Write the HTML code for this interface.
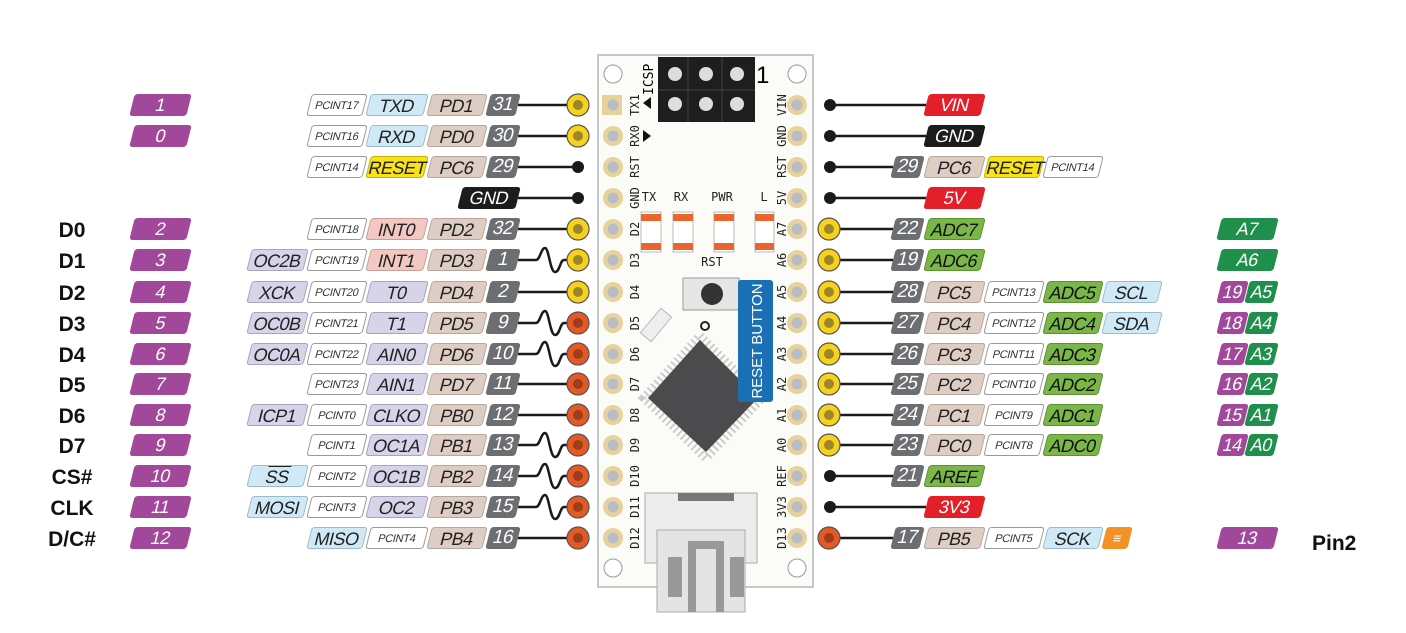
<!DOCTYPE html>
<html><head><meta charset="utf-8">
<style>
body{margin:0;width:1406px;height:633px;background:#fff;position:relative;overflow:hidden;font-family:"Liberation Sans",sans-serif}
svg{position:absolute;left:0;top:0}
.b{position:absolute;height:22px;line-height:22px;transform:skewX(-14deg);border-radius:3px;text-align:center;font-size:18px;color:#222;box-sizing:border-box;white-space:nowrap;letter-spacing:-0.5px}
.pc{background:#fff;border:1px solid #999;font-size:11px;color:#333;letter-spacing:-0.3px}
.lb{background:#cfe9f6;border:1px solid #9bbccb}
.pt{background:#ddcdc3;border:1px solid #b7a79c}
.pk{background:#f4c8c2;border:1px solid #c9a09a}
.lv{background:#d7d3e8;border:1px solid #a9a4c2}
.yl{background:#f8e21a;border:1px solid #c4b200}
.n{background:#6d6e71;color:#fff;font-size:19px}
.bk{background:#1c1c1c;color:#fff}
.rd{background:#e3202a;color:#fff}
.gr{background:#7ab648;border:1px solid #5e9134;color:#111}
.dg{background:#1f8f4c;color:#fff}
.pu{background:#a2489a;color:#fff}
.or{background:#f39224}
.dl{position:absolute;font-weight:bold;font-size:21px;color:#111;text-align:center;width:90px;left:27px}
</style></head><body>
<svg width="1406" height="633" xmlns="http://www.w3.org/2000/svg">
<rect x="598" y="55" width="215" height="532" fill="#fbfbf8" stroke="#c8c8c8" stroke-width="2"/>
<circle cx="613" cy="74" r="9" fill="#fff" stroke="#999"/>
<circle cx="797" cy="74" r="9" fill="#fff" stroke="#999"/>
<circle cx="613" cy="568" r="9" fill="#fff" stroke="#999"/>
<circle cx="797" cy="568" r="9" fill="#fff" stroke="#999"/>
<rect x="658" y="57" width="97" height="65" fill="#1e1e1e"/>
<g fill="#ddd"><circle cx="675" cy="74" r="7"/><circle cx="706" cy="74" r="7"/><circle cx="737" cy="74" r="7"/><circle cx="675" cy="104" r="7"/><circle cx="706" cy="104" r="7"/><circle cx="737" cy="104" r="7"/></g>
<path d="M688,57V122M722,57V122M658,90H755" stroke="#444"/>
<text x="756" y="83" font-size="24" font-family="Liberation Sans">1</text>
<text transform="translate(653,95) rotate(-90)" font-size="13" font-family="DejaVu Sans Mono">ICSP</text>
<path d="M643,103 l8,-6 v12z M643,130 l8,6 l-8,6z" fill="#111"/>
<g fill="#e6d29a">
<rect x="602" y="95" width="20" height="20"/>
<circle cx="613" cy="136" r="10"/><circle cx="613" cy="167" r="10"/><circle cx="613" cy="198" r="10"/><circle cx="613" cy="229" r="10"/><circle cx="613" cy="260" r="10"/><circle cx="613" cy="292" r="10"/><circle cx="613" cy="323" r="10"/><circle cx="613" cy="354" r="10"/><circle cx="613" cy="384" r="10"/><circle cx="613" cy="415" r="10"/><circle cx="613" cy="445" r="10"/><circle cx="613" cy="476" r="10"/><circle cx="613" cy="507" r="10"/><circle cx="613" cy="538" r="10"/>
<circle cx="797" cy="105" r="10"/><circle cx="797" cy="136" r="10"/><circle cx="797" cy="167" r="10"/><circle cx="797" cy="198" r="10"/><circle cx="797" cy="229" r="10"/><circle cx="797" cy="260" r="10"/><circle cx="797" cy="292" r="10"/><circle cx="797" cy="323" r="10"/><circle cx="797" cy="354" r="10"/><circle cx="797" cy="384" r="10"/><circle cx="797" cy="415" r="10"/><circle cx="797" cy="445" r="10"/><circle cx="797" cy="476" r="10"/><circle cx="797" cy="507" r="10"/><circle cx="797" cy="538" r="10"/>
</g>
<g fill="#b8bcc6">
<circle cx="613" cy="105" r="5.5"/><circle cx="613" cy="136" r="5.5"/><circle cx="613" cy="167" r="5.5"/><circle cx="613" cy="198" r="5.5"/><circle cx="613" cy="229" r="5.5"/><circle cx="613" cy="260" r="5.5"/><circle cx="613" cy="292" r="5.5"/><circle cx="613" cy="323" r="5.5"/><circle cx="613" cy="354" r="5.5"/><circle cx="613" cy="384" r="5.5"/><circle cx="613" cy="415" r="5.5"/><circle cx="613" cy="445" r="5.5"/><circle cx="613" cy="476" r="5.5"/><circle cx="613" cy="507" r="5.5"/><circle cx="613" cy="538" r="5.5"/>
<circle cx="797" cy="105" r="5.5"/><circle cx="797" cy="136" r="5.5"/><circle cx="797" cy="167" r="5.5"/><circle cx="797" cy="198" r="5.5"/><circle cx="797" cy="229" r="5.5"/><circle cx="797" cy="260" r="5.5"/><circle cx="797" cy="292" r="5.5"/><circle cx="797" cy="323" r="5.5"/><circle cx="797" cy="354" r="5.5"/><circle cx="797" cy="384" r="5.5"/><circle cx="797" cy="415" r="5.5"/><circle cx="797" cy="445" r="5.5"/><circle cx="797" cy="476" r="5.5"/><circle cx="797" cy="507" r="5.5"/><circle cx="797" cy="538" r="5.5"/>
</g>
<!-- LEDs -->
<g><rect x="641" y="212" width="20" height="40" fill="#fff" stroke="#bbb"/><rect x="673" y="212" width="20" height="40" fill="#fff" stroke="#bbb"/><rect x="714" y="212" width="20" height="40" fill="#fff" stroke="#bbb"/><rect x="755" y="212" width="19" height="40" fill="#fff" stroke="#bbb"/></g>
<g fill="#e8662c"><rect x="641" y="214" width="20" height="7"/><rect x="641" y="243" width="20" height="7"/><rect x="673" y="214" width="20" height="7"/><rect x="673" y="243" width="20" height="7"/><rect x="714" y="214" width="20" height="7"/><rect x="714" y="243" width="20" height="7"/><rect x="755" y="214" width="19" height="7"/><rect x="755" y="243" width="19" height="7"/></g>
<g font-family="DejaVu Sans Mono" font-size="12" fill="#222" text-anchor="middle">
<text transform="translate(639,105) rotate(-90)">TX1</text><text transform="translate(639,136) rotate(-90)">RX0</text><text transform="translate(639,167) rotate(-90)">RST</text><text transform="translate(639,198) rotate(-90)">GND</text><text transform="translate(639,229) rotate(-90)">D2</text><text transform="translate(639,260) rotate(-90)">D3</text><text transform="translate(639,292) rotate(-90)">D4</text><text transform="translate(639,323) rotate(-90)">D5</text><text transform="translate(639,354) rotate(-90)">D6</text><text transform="translate(639,384) rotate(-90)">D7</text><text transform="translate(639,415) rotate(-90)">D8</text><text transform="translate(639,445) rotate(-90)">D9</text><text transform="translate(639,476) rotate(-90)">D10</text><text transform="translate(639,507) rotate(-90)">D11</text><text transform="translate(639,538) rotate(-90)">D12</text>
<text transform="translate(786,105) rotate(-90)">VIN</text><text transform="translate(786,136) rotate(-90)">GND</text><text transform="translate(786,167) rotate(-90)">RST</text><text transform="translate(786,198) rotate(-90)">5V</text><text transform="translate(786,229) rotate(-90)">A7</text><text transform="translate(786,260) rotate(-90)">A6</text><text transform="translate(786,292) rotate(-90)">A5</text><text transform="translate(786,323) rotate(-90)">A4</text><text transform="translate(786,354) rotate(-90)">A3</text><text transform="translate(786,384) rotate(-90)">A2</text><text transform="translate(786,415) rotate(-90)">A1</text><text transform="translate(786,445) rotate(-90)">A0</text><text transform="translate(786,476) rotate(-90)">REF</text><text transform="translate(786,507) rotate(-90)">3V3</text><text transform="translate(786,538) rotate(-90)">D13</text>
<text x="649" y="201">TX</text><text x="681" y="201">RX</text><text x="722" y="201">PWR</text><text x="764" y="201">L</text><text x="712" y="266">RST</text>
</g>
<rect x="683" y="278" width="56" height="32" fill="#e6e6e6" stroke="#999"/>
<circle cx="712" cy="294" r="11" fill="#333"/>
<circle cx="705" cy="326" r="4" fill="none" stroke="#222" stroke-width="2"/>
<rect x="640" y="318" width="32" height="14" fill="#eee" stroke="#bbb" transform="rotate(-50 656 325)"/>
<polygon points="700,336 762,398 706,458 644,398" fill="none" stroke="#ccc" stroke-width="9" stroke-dasharray="2 3"/>
<polygon points="700,340 758,398 706,452 648,398" fill="#4b4b4d"/>
<rect x="738" y="280" width="35" height="122" rx="3" fill="#1a6fb5"/>
<text transform="translate(762,341) rotate(-90)" font-size="15" fill="#fff" text-anchor="middle" font-family="Liberation Sans">RESET BUTTON</text>
<rect x="645" y="493" width="112" height="70" fill="#ececec" stroke="#aaa"/>
<rect x="657" y="530" width="88" height="82" fill="#e4e4e4" stroke="#aaa"/>
<rect x="678" y="493" width="56" height="8" fill="#777"/>
<path d="M692,612 V545 H720 V612" fill="none" stroke="#999" stroke-width="8"/>
<rect x="668" y="557" width="14" height="40" fill="#999"/><rect x="730" y="557" width="14" height="40" fill="#999"/>
<g stroke="#1a1a1a" stroke-width="2.5" fill="none">
<path d="M518,105H578M518,136H578M518,167H578M518,198H578M518,229H578M518,292H578M518,384H578M518,415H578M518,538H578"/>
<path d="M518,260H536c4,0 5,-12 9,-12s5,24 10,24s5,-12 9,-12H578"/>
<path d="M518,323H536c4,0 5,-12 9,-12s5,24 10,24s5,-12 9,-12H578"/>
<path d="M518,354H536c4,0 5,-12 9,-12s5,24 10,24s5,-12 9,-12H578"/>
<path d="M518,445H536c4,0 5,-12 9,-12s5,24 10,24s5,-12 9,-12H578"/>
<path d="M518,476H536c4,0 5,-12 9,-12s5,24 10,24s5,-12 9,-12H578"/>
<path d="M518,507H536c4,0 5,-12 9,-12s5,24 10,24s5,-12 9,-12H578"/>
<path d="M830,105H926M830,136H926M830,167H893M830,198H926M830,229H893M830,260H893M830,292H893M830,323H893M830,354H893M830,384H893M830,415H893M830,445H893M830,476H893M830,507H926M830,538H893"/>
</g>
<g fill="#1a1a1a"><circle cx="578" cy="167" r="6"/><circle cx="578" cy="198" r="6"/><circle cx="830" cy="105" r="6"/><circle cx="830" cy="136" r="6"/><circle cx="830" cy="167" r="6"/><circle cx="830" cy="198" r="6"/><circle cx="830" cy="476" r="6"/><circle cx="830" cy="507" r="6"/></g>
<g fill="#f6d21c" stroke="#555" stroke-width="1.2">
<circle cx="578" cy="105" r="11"/><circle cx="578" cy="136" r="11"/><circle cx="578" cy="229" r="11"/><circle cx="578" cy="260" r="11"/><circle cx="578" cy="292" r="11"/>
<circle cx="829" cy="229" r="11"/><circle cx="829" cy="260" r="11"/><circle cx="829" cy="292" r="11"/><circle cx="829" cy="323" r="11"/><circle cx="829" cy="354" r="11"/><circle cx="829" cy="384" r="11"/><circle cx="829" cy="415" r="11"/><circle cx="829" cy="445" r="11"/>
</g>
<g fill="#9a862c"><circle cx="578" cy="105" r="5"/><circle cx="578" cy="136" r="5"/><circle cx="578" cy="229" r="5"/><circle cx="578" cy="260" r="5"/><circle cx="578" cy="292" r="5"/>
<circle cx="829" cy="229" r="5"/><circle cx="829" cy="260" r="5"/><circle cx="829" cy="292" r="5"/><circle cx="829" cy="323" r="5"/><circle cx="829" cy="354" r="5"/><circle cx="829" cy="384" r="5"/><circle cx="829" cy="415" r="5"/><circle cx="829" cy="445" r="5"/></g>
<g fill="#e35a24" stroke="#555" stroke-width="1.2"><circle cx="578" cy="323" r="11"/><circle cx="578" cy="354" r="11"/><circle cx="578" cy="384" r="11"/><circle cx="578" cy="415" r="11"/><circle cx="578" cy="445" r="11"/><circle cx="578" cy="476" r="11"/><circle cx="578" cy="507" r="11"/><circle cx="578" cy="538" r="11"/><circle cx="829" cy="538" r="11"/></g>
<g fill="#9c3e1a"><circle cx="578" cy="323" r="5"/><circle cx="578" cy="354" r="5"/><circle cx="578" cy="384" r="5"/><circle cx="578" cy="415" r="5"/><circle cx="578" cy="445" r="5"/><circle cx="578" cy="476" r="5"/><circle cx="578" cy="507" r="5"/><circle cx="578" cy="538" r="5"/><circle cx="829" cy="538" r="5"/></g>
</svg>

<div class="dl" style="top:219px">D0</div><div class="dl" style="top:250px">D1</div><div class="dl" style="top:282px">D2</div><div class="dl" style="top:313px">D3</div><div class="dl" style="top:344px">D4</div><div class="dl" style="top:374px">D5</div><div class="dl" style="top:405px">D6</div><div class="dl" style="top:435px">D7</div><div class="dl" style="top:466px">CS#</div><div class="dl" style="top:497px">CLK</div><div class="dl" style="top:528px">D/C#</div>

<div class="b pu" style="left:132px;width:57px;top:94px">1</div>
<div class="b pu" style="left:132px;width:57px;top:125px">0</div>
<div class="b pu" style="left:132px;width:57px;top:218px">2</div>
<div class="b pu" style="left:132px;width:57px;top:249px">3</div>
<div class="b pu" style="left:132px;width:57px;top:281px">4</div>
<div class="b pu" style="left:132px;width:57px;top:312px">5</div>
<div class="b pu" style="left:132px;width:57px;top:343px">6</div>
<div class="b pu" style="left:132px;width:57px;top:373px">7</div>
<div class="b pu" style="left:132px;width:57px;top:404px">8</div>
<div class="b pu" style="left:132px;width:57px;top:434px">9</div>
<div class="b pu" style="left:132px;width:57px;top:465px">10</div>
<div class="b pu" style="left:132px;width:57px;top:496px">11</div>
<div class="b pu" style="left:132px;width:57px;top:527px">12</div>

<div class="b pc" style="left:309px;width:56px;top:94px">PCINT17</div><div class="b lb" style="left:368px;width:58px;top:94px">TXD</div><div class="b pt" style="left:429px;width:56px;top:94px">PD1</div><div class="b n" style="left:488px;width:30px;top:94px">31</div>
<div class="b pc" style="left:309px;width:56px;top:125px">PCINT16</div><div class="b lb" style="left:368px;width:58px;top:125px">RXD</div><div class="b pt" style="left:429px;width:56px;top:125px">PD0</div><div class="b n" style="left:488px;width:30px;top:125px">30</div>
<div class="b pc" style="left:309px;width:56px;top:156px">PCINT14</div><div class="b yl" style="left:368px;width:58px;top:156px">RESET</div><div class="b pt" style="left:429px;width:56px;top:156px">PC6</div><div class="b n" style="left:488px;width:30px;top:156px">29</div>
<div class="b bk" style="left:460px;width:58px;top:187px">GND</div>
<div class="b pc" style="left:309px;width:56px;top:218px">PCINT18</div><div class="b pk" style="left:368px;width:58px;top:218px">INT0</div><div class="b pt" style="left:429px;width:56px;top:218px">PD2</div><div class="b n" style="left:488px;width:30px;top:218px">32</div>
<div class="b lv" style="left:249px;width:57px;top:249px">OC2B</div><div class="b pc" style="left:309px;width:56px;top:249px">PCINT19</div><div class="b pk" style="left:368px;width:58px;top:249px">INT1</div><div class="b pt" style="left:429px;width:56px;top:249px">PD3</div><div class="b n" style="left:488px;width:30px;top:249px">1</div>
<div class="b lv" style="left:249px;width:57px;top:281px">XCK</div><div class="b pc" style="left:309px;width:56px;top:281px">PCINT20</div><div class="b lv" style="left:368px;width:58px;top:281px">T0</div><div class="b pt" style="left:429px;width:56px;top:281px">PD4</div><div class="b n" style="left:488px;width:30px;top:281px">2</div>
<div class="b lv" style="left:249px;width:57px;top:312px">OC0B</div><div class="b pc" style="left:309px;width:56px;top:312px">PCINT21</div><div class="b lv" style="left:368px;width:58px;top:312px">T1</div><div class="b pt" style="left:429px;width:56px;top:312px">PD5</div><div class="b n" style="left:488px;width:30px;top:312px">9</div>
<div class="b lv" style="left:249px;width:57px;top:343px">OC0A</div><div class="b pc" style="left:309px;width:56px;top:343px">PCINT22</div><div class="b lv" style="left:368px;width:58px;top:343px">AIN0</div><div class="b pt" style="left:429px;width:56px;top:343px">PD6</div><div class="b n" style="left:488px;width:30px;top:343px">10</div>
<div class="b pc" style="left:309px;width:56px;top:373px">PCINT23</div><div class="b lv" style="left:368px;width:58px;top:373px">AIN1</div><div class="b pt" style="left:429px;width:56px;top:373px">PD7</div><div class="b n" style="left:488px;width:30px;top:373px">11</div>
<div class="b lv" style="left:249px;width:57px;top:404px">ICP1</div><div class="b pc" style="left:309px;width:56px;top:404px">PCINT0</div><div class="b lv" style="left:368px;width:58px;top:404px">CLKO</div><div class="b pt" style="left:429px;width:56px;top:404px">PB0</div><div class="b n" style="left:488px;width:30px;top:404px">12</div>
<div class="b pc" style="left:309px;width:56px;top:434px">PCINT1</div><div class="b lv" style="left:368px;width:58px;top:434px">OC1A</div><div class="b pt" style="left:429px;width:56px;top:434px">PB1</div><div class="b n" style="left:488px;width:30px;top:434px">13</div>
<div class="b lb" style="left:249px;width:57px;top:465px"><span style="text-decoration:overline">SS</span></div><div class="b pc" style="left:309px;width:56px;top:465px">PCINT2</div><div class="b lv" style="left:368px;width:58px;top:465px">OC1B</div><div class="b pt" style="left:429px;width:56px;top:465px">PB2</div><div class="b n" style="left:488px;width:30px;top:465px">14</div>
<div class="b lb" style="left:249px;width:57px;top:496px">MOSI</div><div class="b pc" style="left:309px;width:56px;top:496px">PCINT3</div><div class="b lv" style="left:368px;width:58px;top:496px">OC2</div><div class="b pt" style="left:429px;width:56px;top:496px">PB3</div><div class="b n" style="left:488px;width:30px;top:496px">15</div>
<div class="b lb" style="left:309px;width:56px;top:527px">MISO</div><div class="b pc" style="left:368px;width:58px;top:527px">PCINT4</div><div class="b pt" style="left:429px;width:56px;top:527px">PB4</div><div class="b n" style="left:488px;width:30px;top:527px">16</div>

<div class="b rd" style="left:926px;width:57px;top:94px">VIN</div>
<div class="b bk" style="left:926px;width:57px;top:125px">GND</div>
<div class="b n" style="left:893px;width:29px;top:156px">29</div><div class="b pt" style="left:926px;width:57px;top:156px">PC6</div><div class="b yl" style="left:986px;width:56px;top:156px">RESET</div><div class="b pc" style="left:1045px;width:56px;top:156px">PCINT14</div>
<div class="b rd" style="left:926px;width:57px;top:187px">5V</div>
<div class="b n" style="left:893px;width:29px;top:218px">22</div><div class="b gr" style="left:926px;width:57px;top:218px">ADC7</div>
<div class="b n" style="left:893px;width:29px;top:249px">19</div><div class="b gr" style="left:926px;width:57px;top:249px">ADC6</div>
<div class="b n" style="left:893px;width:29px;top:281px">28</div><div class="b pt" style="left:926px;width:57px;top:281px">PC5</div><div class="b pc" style="left:986px;width:56px;top:281px">PCINT13</div><div class="b gr" style="left:1045px;width:56px;top:281px">ADC5</div><div class="b lb" style="left:1104px;width:56px;top:281px">SCL</div>
<div class="b n" style="left:893px;width:29px;top:312px">27</div><div class="b pt" style="left:926px;width:57px;top:312px">PC4</div><div class="b pc" style="left:986px;width:56px;top:312px">PCINT12</div><div class="b gr" style="left:1045px;width:56px;top:312px">ADC4</div><div class="b lb" style="left:1104px;width:56px;top:312px">SDA</div>
<div class="b n" style="left:893px;width:29px;top:343px">26</div><div class="b pt" style="left:926px;width:57px;top:343px">PC3</div><div class="b pc" style="left:986px;width:56px;top:343px">PCINT11</div><div class="b gr" style="left:1045px;width:56px;top:343px">ADC3</div>
<div class="b n" style="left:893px;width:29px;top:373px">25</div><div class="b pt" style="left:926px;width:57px;top:373px">PC2</div><div class="b pc" style="left:986px;width:56px;top:373px">PCINT10</div><div class="b gr" style="left:1045px;width:56px;top:373px">ADC2</div>
<div class="b n" style="left:893px;width:29px;top:404px">24</div><div class="b pt" style="left:926px;width:57px;top:404px">PC1</div><div class="b pc" style="left:986px;width:56px;top:404px">PCINT9</div><div class="b gr" style="left:1045px;width:56px;top:404px">ADC1</div>
<div class="b n" style="left:893px;width:29px;top:434px">23</div><div class="b pt" style="left:926px;width:57px;top:434px">PC0</div><div class="b pc" style="left:986px;width:56px;top:434px">PCINT8</div><div class="b gr" style="left:1045px;width:56px;top:434px">ADC0</div>
<div class="b n" style="left:893px;width:29px;top:465px">21</div><div class="b gr" style="left:926px;width:57px;top:465px">AREF</div>
<div class="b rd" style="left:926px;width:57px;top:496px">3V3</div>
<div class="b n" style="left:893px;width:29px;top:527px">17</div><div class="b pt" style="left:926px;width:57px;top:527px">PB5</div><div class="b pc" style="left:986px;width:56px;top:527px">PCINT5</div><div class="b lb" style="left:1045px;width:56px;top:527px">SCK</div><div class="b or" style="left:1104px;width:26px;top:527px;color:#fff;font-size:14px">≡</div>

<div class="b dg" style="left:1219px;width:57px;top:218px">A7</div>
<div class="b dg" style="left:1219px;width:57px;top:249px">A6</div>
<div class="b pu" style="left:1219px;width:27px;top:281px">19</div><div class="b dg" style="left:1247px;width:29px;top:281px">A5</div>
<div class="b pu" style="left:1219px;width:27px;top:312px">18</div><div class="b dg" style="left:1247px;width:29px;top:312px">A4</div>
<div class="b pu" style="left:1219px;width:27px;top:343px">17</div><div class="b dg" style="left:1247px;width:29px;top:343px">A3</div>
<div class="b pu" style="left:1219px;width:27px;top:373px">16</div><div class="b dg" style="left:1247px;width:29px;top:373px">A2</div>
<div class="b pu" style="left:1219px;width:27px;top:404px">15</div><div class="b dg" style="left:1247px;width:29px;top:404px">A1</div>
<div class="b pu" style="left:1219px;width:27px;top:434px">14</div><div class="b dg" style="left:1247px;width:29px;top:434px">A0</div>
<div class="b pu" style="left:1219px;width:57px;top:527px">13</div>
<div style="position:absolute;left:1312px;top:532px;font-weight:bold;font-size:21px;color:#111">Pin2</div>
</body></html>
